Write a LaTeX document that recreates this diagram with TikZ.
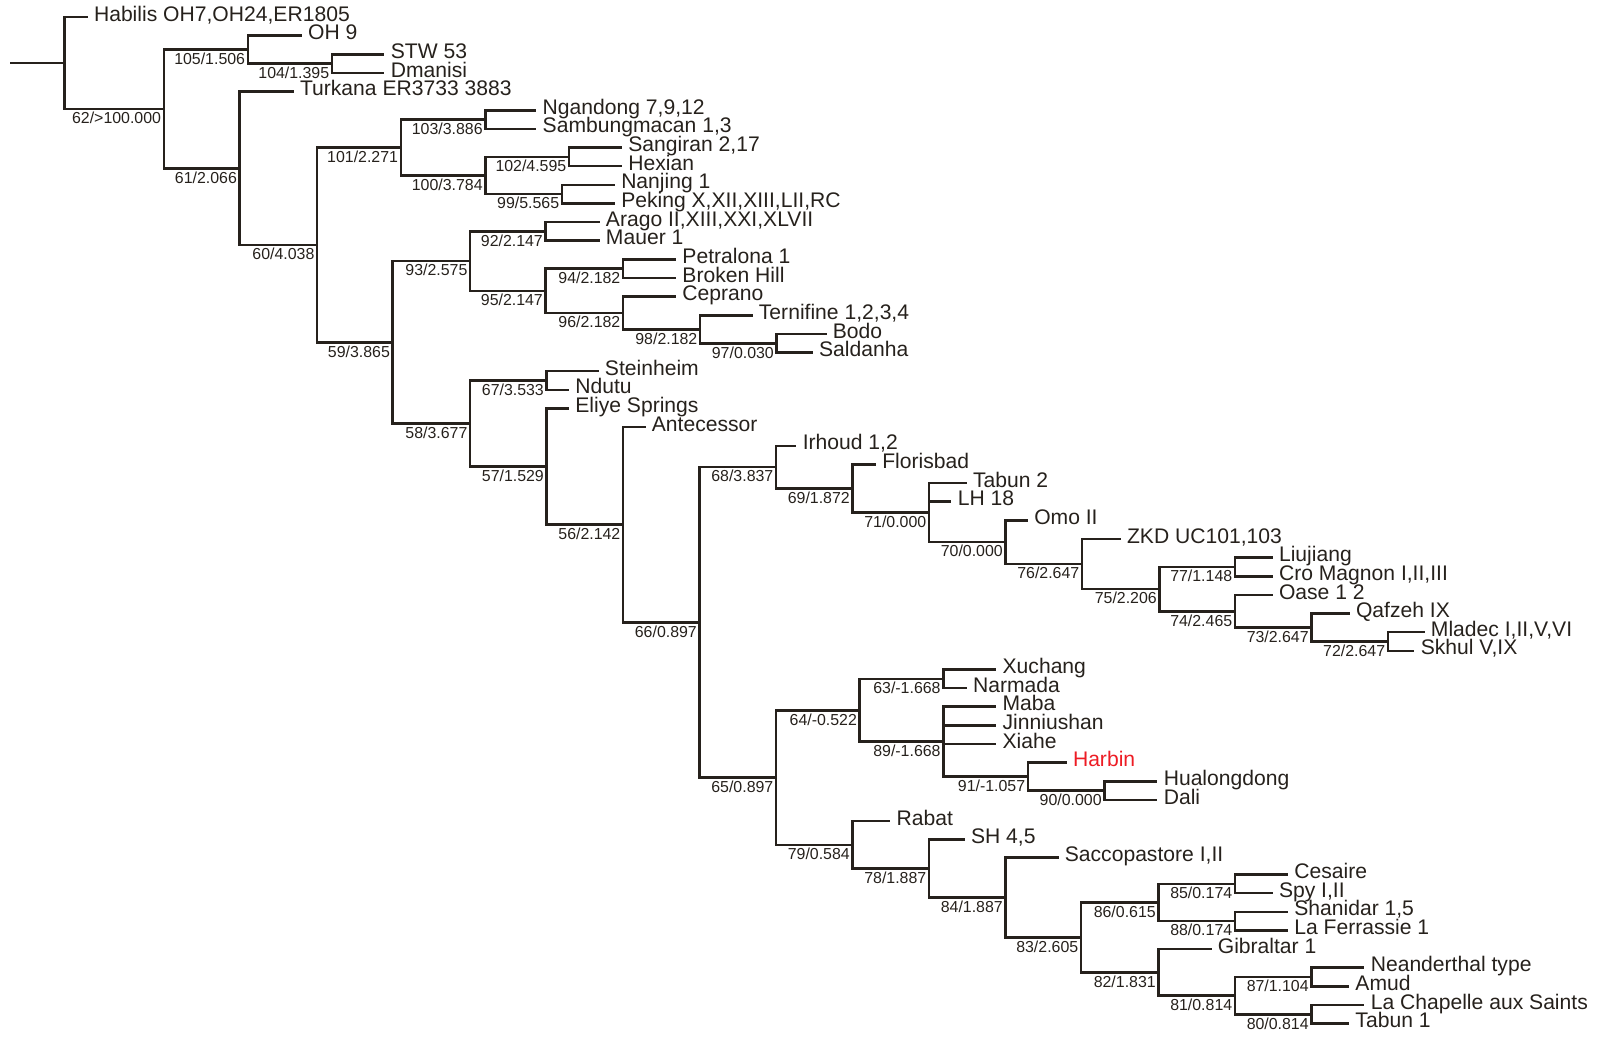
\documentclass[tikz,border=0pt]{standalone}
\usepackage{fontspec}
\setmainfont{Liberation Sans}
\definecolor{branch}{RGB}{38,33,28}
\definecolor{harbinred}{RGB}{237,28,36}
\tikzset{
  br/.style={draw=branch, line width=2.5pt},
  tip/.style={anchor=base west, inner sep=0pt, text=branch, font=\fontsize{20.7}{22}\selectfont},
  nlab/.style={anchor=base east, inner sep=0pt, text=branch, font=\fontsize{15.6}{17}\selectfont},
}
\newcommand\leaf[4]{\coordinate (#1) at (#2,#3); \node[tip] (#1t) at ([shift={(6pt,-4pt)}]#1) {#4};}
\newcommand\clade[4]{\coordinate (#1) at (#2,#3); \node[nlab] (#1l) at ([shift={(-2.5pt,-14.5pt)}]#1) {#4};}

\begin{document}
\begin{tikzpicture}[x=1pt, y=-1pt]
\useasboundingbox (0,0) rectangle (1568,1017);

\coordinate (stem) at (10,61.78);
\coordinate (base) at (63,61.78);
\clade{n62}{160.6}{106.85}{62/>100.000}
\clade{n105}{243}{48.69}{105/1.506}
\clade{n104}{325.5}{62.40}{104/1.395}
\clade{n61}{235}{165.00}{61/2.066}
\clade{n60}{311}{240.19}{60/4.038}
\clade{n101}{393}{144.66}{101/2.271}
\clade{n103}{476}{117.24}{103/3.886}
\clade{n100}{476}{172.08}{100/3.784}
\clade{n102}{558}{153.80}{102/4.595}
\clade{n99}{551}{190.36}{99/5.565}
\clade{n59}{385}{335.72}{59/3.865}
\clade{n93}{461}{256.06}{93/2.575}
\clade{n92}{535}{226.92}{92/2.147}
\clade{n95}{535}{285.19}{95/2.147}
\clade{n94}{611}{263.48}{94/2.182}
\clade{n96}{611}{306.90}{96/2.182}
\clade{n98}{686.5}{322.89}{98/2.182}
\clade{n97}{761.5}{336.60}{97/0.030}
\clade{n58}{461}{415.37}{58/3.677}
\clade{n67}{536}{373.16}{67/3.533}
\clade{n57}{536}{457.58}{57/1.529}
\clade{n56}{611}{514.57}{56/2.142}
\clade{n66}{686}{610.27}{66/0.897}
\clade{n68}{761}{458.10}{68/3.837}
\clade{n69}{836}{479.06}{69/1.872}
\clade{n71}{911}{502.69}{71/0.000}
\clade{n70}{986}{531.68}{70/0.000}
\clade{n76}{1061}{553.10}{76/2.647}
\clade{n75}{1137}{577.67}{75/2.206}
\clade{n77}{1211}{555.96}{77/1.148}
\clade{n74}{1211}{599.38}{74/2.465}
\clade{n73}{1286}{615.37}{73/2.647}
\clade{n72}{1361}{629.08}{72/2.647}
\clade{n65}{761}{762.44}{65/0.897}
\clade{n64}{843}{696.49}{64/-0.522}
\clade{n63}{925}{665.64}{63/-1.668}
\clade{n89}{925}{727.34}{89/-1.668}
\clade{n91}{1008}{761.61}{91/-1.057}
\clade{n90}{1083}{775.32}{90/0.000}
\clade{n79}{836}{828.39}{79/0.584}
\clade{n78}{911}{851.53}{78/1.887}
\clade{n84}{986}{880.04}{84/1.887}
\clade{n83}{1060}{919.28}{83/2.605}
\clade{n86}{1136}{885.00}{86/0.615}
\clade{n85}{1211}{866.72}{85/0.174}
\clade{n88}{1211}{903.28}{88/0.174}
\clade{n82}{1136}{953.55}{82/1.831}
\clade{n81}{1211}{976.40}{81/0.814}
\clade{n87}{1286}{958.12}{87/1.104}
\clade{n80}{1286}{994.68}{80/0.814}

\leaf{habilis}{86}{16.70}{Habilis OH7,OH24,ER1805}
\leaf{oh}{296}{34.98}{OH 9}
\leaf{stw}{377}{53.26}{STW 53}
\leaf{dmanisi}{377}{71.54}{Dmanisi}
\leaf{turkana}{288}{89.82}{Turkana ER3733 3883}
\leaf{ngandong}{526}{108.10}{Ngandong 7,9,12}
\leaf{sambung}{526}{126.38}{Sambungmacan 1,3}
\leaf{sangiran}{610}{144.66}{Sangiran 2,17}
\leaf{hexian}{610}{162.94}{Hexian}
\leaf{nanjing}{603}{181.22}{Nanjing 1}
\leaf{peking}{603}{199.50}{Peking X,XII,XIII,LII,RC}
\leaf{arago}{588}{217.78}{Arago II,XIII,XXI,XLVII}
\leaf{mauer}{588}{236.06}{Mauer 1}
\leaf{petralona}{663}{254.34}{Petralona 1}
\leaf{broken}{663}{272.62}{Broken Hill}
\leaf{ceprano}{663}{290.90}{Ceprano}
\leaf{ternifine}{738}{309.18}{Ternifine 1,2,3,4}
\leaf{bodo}{810.5}{327.46}{Bodo}
\leaf{saldanha}{797}{345.74}{Saldanha}
\leaf{steinheim}{587}{364.02}{Steinheim}
\leaf{ndutu}{558}{382.30}{Ndutu}
\leaf{eliye}{558}{400.58}{Eliye Springs}
\leaf{antecessor}{633}{418.86}{Antecessor}
\leaf{irhoud}{781}{437.14}{Irhoud 1,2}
\leaf{florisbad}{859}{455.42}{Florisbad}
\leaf{tabuntwo}{948}{473.70}{Tabun 2}
\leaf{lh}{933}{491.98}{LH 18}
\leaf{omo}{1008}{510.26}{Omo II}
\leaf{zkd}{1099}{528.54}{ZKD UC101,103}
\leaf{liujiang}{1248}{546.82}{Liujiang}
\leaf{cromagnon}{1248}{565.10}{Cro Magnon I,II,III}
\leaf{oase}{1248}{583.38}{Oase 1 2}
\leaf{qafzeh}{1323.5}{601.66}{Qafzeh IX}
\leaf{mladec}{1397}{619.94}{Mladec I,II,V,VI}
\leaf{skhul}{1387}{638.22}{Skhul V,IX}
\leaf{xuchang}{977}{656.50}{Xuchang}
\leaf{narmada}{948}{674.78}{Narmada}
\leaf{maba}{977}{693.06}{Maba}
\leaf{jinniushan}{977}{711.34}{Jinniushan}
\leaf{xiahe}{977}{729.62}{Xiahe}
\leaf{harbin}{1046}{747.90}{\color{harbinred}Harbin}
\leaf{hualongdong}{1135}{766.18}{Hualongdong}
\leaf{dali}{1135}{784.46}{Dali}
\leaf{rabat}{873}{805.24}{Rabat}
\leaf{sh}{946}{823.02}{SH 4,5}
\leaf{sacco}{1038}{840.80}{Saccopastore I,II}
\leaf{cesaire}{1263}{857.58}{Cesaire}
\leaf{spy}{1248}{875.86}{Spy I,II}
\leaf{shanidar}{1263}{894.14}{Shanidar 1,5}
\leaf{ferrassie}{1263}{912.42}{La Ferrassie 1}
\leaf{gibraltar}{1188}{930.70}{Gibraltar 1}
\leaf{neandertype}{1338}{948.98}{Neanderthal type}
\leaf{amud}{1323}{967.26}{Amud}
\leaf{chapelle}{1338}{985.54}{La Chapelle aux Saints}
\leaf{tabunone}{1323}{1003.82}{Tabun 1}

\draw[br] (stem) -- (base);
\foreach \p/\c in {base/habilis, base/n62, n62/n105, n62/n61, n105/oh, n105/n104,
    n104/stw, n104/dmanisi, n61/turkana, n61/n60, n60/n101, n60/n59,
    n101/n103, n101/n100, n103/ngandong, n103/sambung, n100/n102, n100/n99,
    n102/sangiran, n102/hexian, n99/nanjing, n99/peking,
    n59/n93, n59/n58, n93/n92, n93/n95, n92/arago, n92/mauer, n95/n94, n95/n96,
    n94/petralona, n94/broken, n96/ceprano, n96/n98, n98/ternifine, n98/n97,
    n97/bodo, n97/saldanha, n58/n67, n58/n57, n67/steinheim, n67/ndutu,
    n57/eliye, n57/n56, n56/antecessor, n56/n66, n66/n68, n66/n65,
    n68/irhoud, n68/n69, n69/florisbad, n69/n71, n71/tabuntwo, n71/lh, n71/n70,
    n70/omo, n70/n76, n76/zkd, n76/n75, n75/n77, n75/n74, n77/liujiang, n77/cromagnon,
    n74/oase, n74/n73, n73/qafzeh, n73/n72, n72/mladec, n72/skhul,
    n65/n64, n65/n79, n64/n63, n64/n89, n63/xuchang, n63/narmada,
    n89/maba, n89/jinniushan, n89/xiahe, n89/n91, n91/harbin, n91/n90,
    n90/hualongdong, n90/dali, n79/rabat, n79/n78, n78/sh, n78/n84,
    n84/sacco, n84/n83, n83/n86, n83/n82, n86/n85, n86/n88,
    n85/cesaire, n85/spy, n88/shanidar, n88/ferrassie, n82/gibraltar, n82/n81,
    n81/n87, n81/n80, n87/neandertype, n87/amud, n80/chapelle, n80/tabunone}
  {\draw[br] (\p) |- (\c);}
\end{tikzpicture}
\end{document}
